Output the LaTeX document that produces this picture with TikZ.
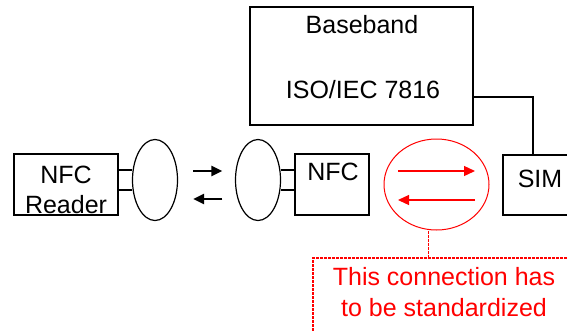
\documentclass[tikz,border=0pt]{standalone}
\usepackage{fontspec}
\setmainfont{Liberation Sans}
\usetikzlibrary{arrows.meta,shapes.geometric}
\tikzset{
  blk/.style={draw,line width=1.5pt,inner sep=0pt},
  antenna/.style={draw,ellipse,line width=1.2pt,inner sep=0pt,minimum width=45pt,minimum height=81pt},
  lbl/.style={inner sep=0pt,font=\fontsize{25}{30}\selectfont},
  reddash/.style={red,line width=1.1pt,dash pattern=on 3pt off 1pt},
  tip/.style={-{Triangle[length=11pt,width=10pt]}}
}
\begin{document}
\begin{tikzpicture}[x=1pt,y=-1pt]
    \clip (0,0) rectangle (567,330);
    % baseband
    \node[blk,minimum width=223pt,minimum height=118pt] (baseband) at (361.5,66) {};
    \node[lbl] (bbtitle) at (362,25) {Baseband};
    \node[lbl] (bbiso) at (363,90) {ISO/IEC 7816};
    % reader side
    \node[blk,minimum width=104pt,minimum height=61pt] (reader) at (66,184.5) {};
    \node[lbl,align=center] (readertxt) at (66,190) {NFC\\Reader};
    \node[antenna] (antL) at (155,180) {};
    \draw[line width=1.2pt] (reader.east |- 0,170) -- (antL.west |- 0,170);
    \draw[line width=1.2pt] (reader.east |- 0,190) -- (antL.west |- 0,190);
    % phone side
    \node[antenna] (antR) at (258,180) {};
    \node[blk,minimum width=74pt,minimum height=61pt] (nfc) at (332,184.5) {};
    \node[lbl] (nfctxt) at (333,172) {NFC};
    \draw[line width=1.2pt] (antR.east |- 0,170) -- (nfc.west |- 0,170);
    \draw[line width=1.2pt] (antR.east |- 0,190) -- (nfc.west |- 0,190);
    \draw[tip,line width=2.4pt] ([xshift=15pt]antL.east |- 0,171) -- ([xshift=-12.5pt]antR.west |- 0,171);
    \draw[tip,line width=2.4pt] ([xshift=-12.5pt]antR.west |- 0,199) -- ([xshift=15pt]antL.east |- 0,199);
    % sim
    \node[blk,minimum width=80pt,minimum height=60pt] (sim) at (543,185) {};
    \node[lbl] (simtxt) at (540,179) {SIM};
    \draw[line width=1.5pt] (baseband.east |- 0,97) -| ([xshift=-10pt]sim.north);
    % link to be standardized
    \node[antenna,draw=red,line width=1pt,minimum width=105pt,minimum height=91pt] (link) at (436.5,184.5) {};
    \draw[tip,red,line width=1.3pt] ([xshift=-38.5pt]link.center |- 0,171) -- ([xshift=38.5pt]link.center |- 0,171);
    \draw[tip,red,line width=1.3pt] ([xshift=38.5pt]link.center |- 0,200) -- ([xshift=-38.5pt]link.center |- 0,200);
    \coordinate (notetl) at (313,258);
    \draw[reddash] (notetl -| 575,0) -- (notetl) -- (notetl |- 0,335);
    \draw[reddash] ([xshift=-8pt]link.south) -- ([xshift=-8pt]link.south |- notetl);
    \node[lbl,red,align=center,font=\fontsize{25}{31}\selectfont] (note) at (444,292.5) {This connection has\\to be standardized};
\end{tikzpicture}
\end{document}
